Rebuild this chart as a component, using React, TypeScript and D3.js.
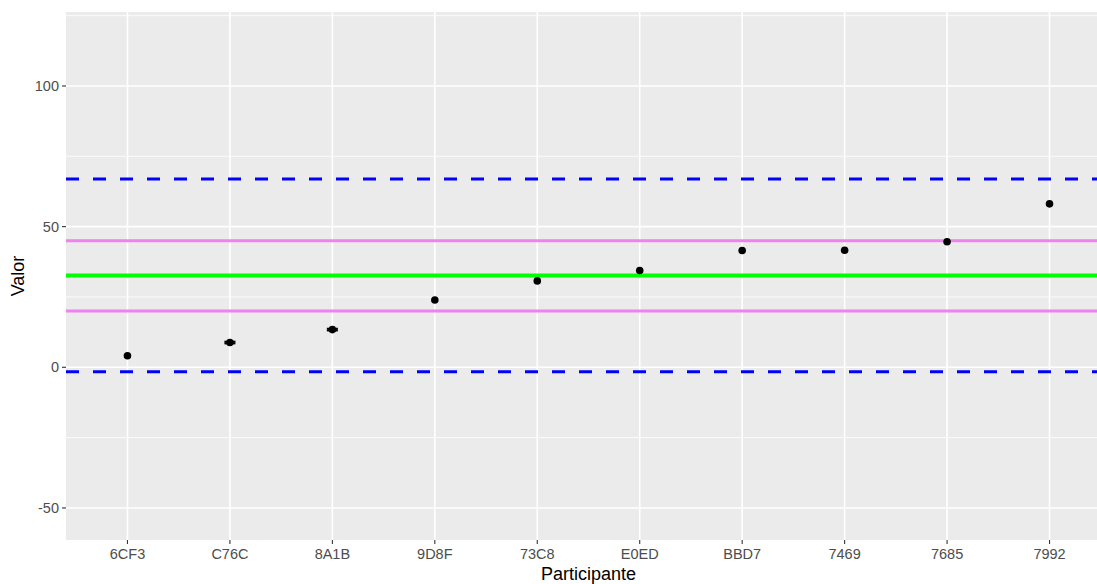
import React from "react";
import * as d3 from "d3";

const participants = ["6CF3", "C76C", "8A1B", "9D8F", "73C8", "E0ED", "BBD7", "7469", "7685", "7992"];
const values = [4.1, 8.8, 13.4, 23.9, 30.7, 34.4, 41.5, 41.6, 44.6, 58.1];
const errLow = [null, 8.5, 13.1, null, null, null, null, null, null, null];
const errHigh = [null, 9.1, 13.7, null, null, null, null, null, null, null];
const yTicks = [-50, 0, 50, 100];
const yMinor = [-25, 25, 75, 125];
const centerLine = 32.6;
const innerLimits = [20.0, 45.0];
const outerLimits = [-1.6, 66.9];

const W = 1097;
const H = 584;
const panel = { left: 66, top: 12, right: 1111, bottom: 540 };

export default function App() {
  const x = d3.scalePoint<string>().domain(participants).range([panel.left, panel.right]).padding(0.6);
  const y = d3.scaleLinear().domain([-61.4, 126.3]).range([panel.bottom, panel.top]);
  const font = "'Liberation Sans', Arial, sans-serif";
  const hLine = (v: number, color: string, w: number, dash?: string, key?: string) => (
    <line key={key} x1={panel.left} x2={panel.right} y1={y(v)} y2={y(v)} stroke={color} strokeWidth={w} strokeDasharray={dash} />
  );
  return (
    <svg width={W} height={H} style={{ position: "absolute", left: 0, top: 0, background: "#fff" }} fontFamily={font}>
      <rect x={panel.left} y={panel.top} width={panel.right - panel.left} height={panel.bottom - panel.top} fill="#EBEBEB" />
      {yMinor.map((t) => (
        <line key={"mn" + t} x1={panel.left} x2={panel.right} y1={y(t)} y2={y(t)} stroke="#fff" strokeWidth={0.8} />
      ))}
      {yTicks.map((t) => (
        <line key={"mj" + t} x1={panel.left} x2={panel.right} y1={y(t)} y2={y(t)} stroke="#fff" strokeWidth={1.6} />
      ))}
      {participants.map((p) => (
        <line key={"vx" + p} x1={x(p)} x2={x(p)} y1={panel.top} y2={panel.bottom} stroke="#fff" strokeWidth={1.6} />
      ))}
      {outerLimits.map((v, i) => hLine(v, "#0000FF", 3, "13,14", "o" + i))}
      {innerLimits.map((v, i) => hLine(v, "#EE82EE", 3, undefined, "i" + i))}
      {hLine(centerLine, "#00FF00", 4, undefined, "c")}
      {participants.map((p, i) =>
        errLow[i] != null ? (
          <g key={"e" + p} stroke="#000" strokeWidth={2}>
            <line x1={x(p)! - 5.5} x2={x(p)! + 5.5} y1={y(errLow[i] as number)} y2={y(errLow[i] as number)} />
            <line x1={x(p)! - 5.5} x2={x(p)! + 5.5} y1={y(errHigh[i] as number)} y2={y(errHigh[i] as number)} />
            <line x1={x(p)} x2={x(p)} y1={y(errLow[i] as number)} y2={y(errHigh[i] as number)} />
          </g>
        ) : null
      )}
      {participants.map((p, i) => (
        <circle key={"pt" + p} cx={x(p)} cy={y(values[i])} r={3.8} fill="#000" />
      ))}
      {yTicks.map((t) => (
        <g key={"yt" + t}>
          <line x1={panel.left - 4} x2={panel.left} y1={y(t)} y2={y(t)} stroke="#333" strokeWidth={1.1} />
          <text x={panel.left - 7} y={y(t)} dy="0.35em" textAnchor="end" fontSize={14.5} fill="#4D4D4D">{t}</text>
        </g>
      ))}
      {participants.map((p) => (
        <g key={"xt" + p}>
          <line x1={x(p)} x2={x(p)} y1={panel.bottom} y2={panel.bottom + 4} stroke="#333" strokeWidth={1.1} />
          <text x={x(p)} y={panel.bottom + 19} textAnchor="middle" fontSize={14.5} fill="#4D4D4D">{p}</text>
        </g>
      ))}
      <text x={(panel.left + panel.right) / 2} y={580} textAnchor="middle" fontSize={18} fill="#000">Participante</text>
      <text transform={`translate(24, ${(panel.top + panel.bottom) / 2}) rotate(-90)`} textAnchor="middle" fontSize={18} fill="#000">Valor</text>
    </svg>
  );
}
